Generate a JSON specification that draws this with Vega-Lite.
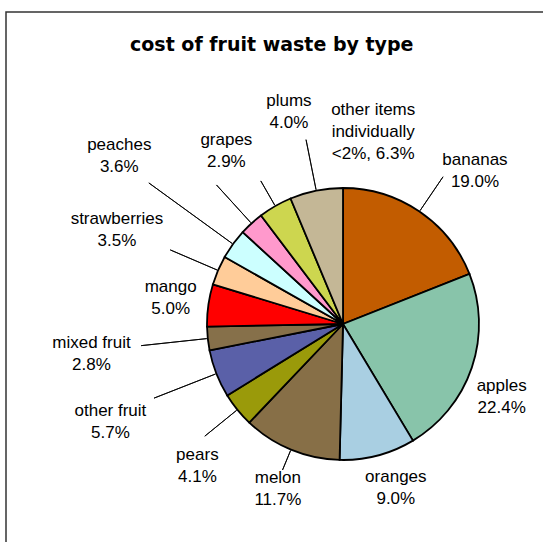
{
  "$schema": "https://vega.github.io/schema/vega-lite/v6.json",
  "autosize": {"type": "none"},
  "padding": {"left": 6, "top": 12, "right": -137, "bottom": -94},
  "width": 674,
  "height": 624,
  "background": "white",
  "view": {"stroke": "#333333", "strokeWidth": 1.5},
  "config": {
    "view": {"stroke": "#333333", "strokeWidth": 1.5},
    "text": {"font": "Liberation Sans"}
  },
  "title": {
    "text": "cost of fruit waste by type",
    "font": "DejaVu Sans",
    "fontSize": 19,
    "fontWeight": "bold",
    "color": "black",
    "anchor": "start",
    "frame": "group",
    "orient": "top",
    "offset": -37,
    "dx": 124,
    "dy": 21,
    "baseline": "alphabetic"
  },
  "data": {
    "values": [
      {"rank": 1, "name": "bananas", "value": 0.19, "label": "bananas\n19.0%"},
      {"rank": 2, "name": "apples", "value": 0.224, "label": "apples\n22.4%"},
      {"rank": 3, "name": "oranges", "value": 0.09, "label": "oranges\n9.0%"},
      {"rank": 4, "name": "melon", "value": 0.117, "label": "melon\n11.7%"},
      {"rank": 5, "name": "pears", "value": 0.041, "label": "pears\n4.1%"},
      {"rank": 6, "name": "other fruit", "value": 0.057, "label": "other fruit\n5.7%"},
      {"rank": 7, "name": "mixed fruit", "value": 0.028, "label": "mixed fruit\n2.8%"},
      {"rank": 8, "name": "mango", "value": 0.05, "label": "mango\n5.0%"},
      {"rank": 9, "name": "strawberries", "value": 0.035, "label": "strawberries\n3.5%"},
      {"rank": 10, "name": "peaches", "value": 0.036, "label": "peaches\n3.6%"},
      {"rank": 11, "name": "grapes", "value": 0.029, "label": "grapes\n2.9%"},
      {"rank": 12, "name": "plums", "value": 0.04, "label": "plums\n4.0%"},
      {"rank": 13, "name": "other items individually <2%", "value": 0.063, "label": "other items\nindividually\n<2%, 6.3%"}
    ]
  },
  "encoding": {
    "theta": {"field": "value", "type": "quantitative", "stack": true},
    "order": {"field": "rank", "type": "quantitative"},
    "detail": {"field": "name", "type": "nominal"}
  },
  "layer": [
    {
      "mark": {"type": "arc", "outerRadius": 136, "stroke": "black", "strokeWidth": 1.8},
      "encoding": {
        "color": {
          "field": "name",
          "type": "nominal",
          "legend": null,
          "scale": {
            "domain": ["bananas", "apples", "oranges", "melon", "pears", "other fruit", "mixed fruit", "mango", "strawberries", "peaches", "grapes", "plums", "other items individually <2%"],
            "range": ["#C25C00", "#88C4AA", "#A9CFE2", "#876F47", "#9A9A0A", "#5A60A8", "#86704A", "#FF0000", "#FFCC99", "#CCFFFF", "#FF99CC", "#CDD64F", "#C4B796"]
          }
        }
      }
    },
    {
      "mark": {"type": "arc", "innerRadius": 137, "outerRadius": 158, "padAngle": 3.14, "fillOpacity": 0, "stroke": "black", "strokeWidth": 0.9},
      "encoding": {"strokeOpacity": {"condition": {"test": "indexof(['melon'], datum.name) >= 0", "value": 1}, "value": 0}}
    },
    {
      "mark": {"type": "arc", "innerRadius": 137, "outerRadius": 165, "padAngle": 3.14, "fillOpacity": 0, "stroke": "black", "strokeWidth": 0.9},
      "encoding": {"strokeOpacity": {"condition": {"test": "indexof(['plums'], datum.name) >= 0", "value": 1}, "value": 0}}
    },
    {
      "mark": {"type": "arc", "innerRadius": 137, "outerRadius": 178, "padAngle": 3.14, "fillOpacity": 0, "stroke": "black", "strokeWidth": 0.9},
      "encoding": {"strokeOpacity": {"condition": {"test": "indexof(['bananas', 'pears'], datum.name) >= 0", "value": 1}, "value": 0}}
    },
    {
      "mark": {"type": "arc", "innerRadius": 137, "outerRadius": 188, "padAngle": 3.14, "fillOpacity": 0, "stroke": "black", "strokeWidth": 0.9},
      "encoding": {"strokeOpacity": {"condition": {"test": "indexof(['other items individually <2%', 'grapes', 'strawberries'], datum.name) >= 0", "value": 1}, "value": 0}}
    },
    {
      "mark": {"type": "arc", "innerRadius": 137, "outerRadius": 203, "padAngle": 3.14, "fillOpacity": 0, "stroke": "black", "strokeWidth": 0.9},
      "encoding": {"strokeOpacity": {"condition": {"test": "indexof(['mixed fruit', 'other fruit'], datum.name) >= 0", "value": 1}, "value": 0}}
    },
    {
      "mark": {"type": "arc", "innerRadius": 137, "outerRadius": 240, "padAngle": 3.14, "fillOpacity": 0, "stroke": "black", "strokeWidth": 0.9},
      "encoding": {"strokeOpacity": {"condition": {"test": "indexof(['peaches'], datum.name) >= 0", "value": 1}, "value": 0}}
    },
    {
      "mark": {"type": "text", "radius": 201, "dx": 19, "dy": 2, "fontSize": 17, "lineBreak": "\n", "lineHeight": 22, "align": "center", "baseline": "middle", "color": "black"},
      "encoding": {"text": {"condition": {"test": "datum.name == 'bananas'", "field": "label"}, "value": ""}}
    },
    {
      "mark": {"type": "text", "radius": 176, "dx": -8, "dy": 6, "fontSize": 17, "lineBreak": "\n", "lineHeight": 22, "align": "center", "baseline": "middle", "color": "black"},
      "encoding": {"text": {"condition": {"test": "datum.name == 'apples'", "field": "label"}, "value": ""}}
    },
    {
      "mark": {"type": "text", "radius": 172, "dx": 9, "dy": -13, "fontSize": 17, "lineBreak": "\n", "lineHeight": 22, "align": "center", "baseline": "middle", "color": "black"},
      "encoding": {"text": {"condition": {"test": "datum.name == 'oranges'", "field": "label"}, "value": ""}}
    },
    {
      "mark": {"type": "text", "radius": 178, "dx": 3, "dy": -10, "fontSize": 17, "lineBreak": "\n", "lineHeight": 22, "align": "center", "baseline": "middle", "color": "black"},
      "encoding": {"text": {"condition": {"test": "datum.name == 'melon'", "field": "label"}, "value": ""}}
    },
    {
      "mark": {"type": "text", "radius": 203, "dx": 12, "dy": 3, "fontSize": 17, "lineBreak": "\n", "lineHeight": 22, "align": "center", "baseline": "middle", "color": "black"},
      "encoding": {"text": {"condition": {"test": "datum.name == 'pears'", "field": "label"}, "value": ""}}
    },
    {
      "mark": {"type": "text", "radius": 252, "dx": 2, "dy": -5, "fontSize": 17, "lineBreak": "\n", "lineHeight": 22, "align": "center", "baseline": "middle", "color": "black"},
      "encoding": {"text": {"condition": {"test": "datum.name == 'other fruit'", "field": "label"}, "value": ""}}
    },
    {
      "mark": {"type": "text", "radius": 253, "dx": 0, "dy": -8, "fontSize": 17, "lineBreak": "\n", "lineHeight": 22, "align": "center", "baseline": "middle", "color": "black"},
      "encoding": {"text": {"condition": {"test": "datum.name == 'mixed fruit'", "field": "label"}, "value": ""}}
    },
    {
      "mark": {"type": "text", "radius": 174, "dx": 0, "dy": -13, "fontSize": 17, "lineBreak": "\n", "lineHeight": 22, "align": "center", "baseline": "middle", "color": "black"},
      "encoding": {"text": {"condition": {"test": "datum.name == 'mango'", "field": "label"}, "value": ""}}
    },
    {
      "mark": {"type": "text", "radius": 246, "dx": 0, "dy": -8, "fontSize": 17, "lineBreak": "\n", "lineHeight": 22, "align": "center", "baseline": "middle", "color": "black"},
      "encoding": {"text": {"condition": {"test": "datum.name == 'strawberries'", "field": "label"}, "value": ""}}
    },
    {
      "mark": {"type": "text", "radius": 279, "dx": 2, "dy": -15, "fontSize": 17, "lineBreak": "\n", "lineHeight": 22, "align": "center", "baseline": "middle", "color": "black"},
      "encoding": {"text": {"condition": {"test": "datum.name == 'peaches'", "field": "label"}, "value": ""}}
    },
    {
      "mark": {"type": "text", "radius": 206, "dx": 22, "dy": -32, "fontSize": 17, "lineBreak": "\n", "lineHeight": 22, "align": "center", "baseline": "middle", "color": "black"},
      "encoding": {"text": {"condition": {"test": "datum.name == 'grapes'", "field": "label"}, "value": ""}}
    },
    {
      "mark": {"type": "text", "radius": 209, "dx": 50, "dy": -42, "fontSize": 17, "lineBreak": "\n", "lineHeight": 22, "align": "center", "baseline": "middle", "color": "black"},
      "encoding": {"text": {"condition": {"test": "datum.name == 'plums'", "field": "label"}, "value": ""}}
    },
    {
      "mark": {"type": "text", "radius": 182, "dx": 66, "dy": -36, "fontSize": 17, "lineBreak": "\n", "lineHeight": 22, "align": "center", "baseline": "middle", "color": "black"},
      "encoding": {"text": {"condition": {"test": "datum.name == 'other items individually <2%'", "field": "label"}, "value": ""}}
    }
  ]
}
